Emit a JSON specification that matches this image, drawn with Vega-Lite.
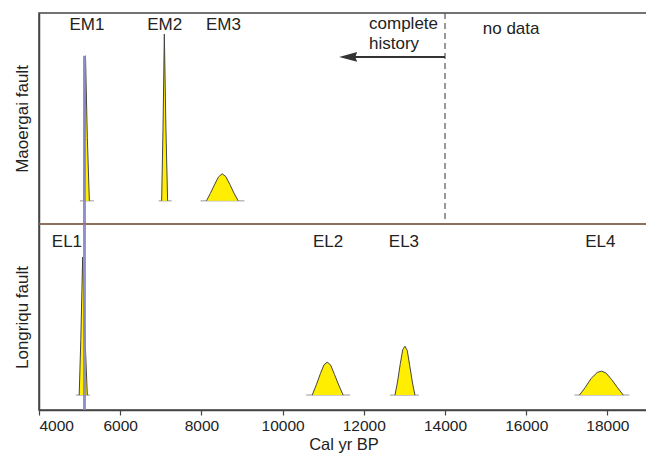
{
  "$schema": "https://vega.github.io/schema/vega-lite/v6.json",
  "padding": {"left": 12, "top": 11, "right": 0, "bottom": 0},
  "background": "white",
  "spacing": 0,
  "bounds": "flush",
  "config": {
    "font": "Liberation Sans",
    "concat": {"spacing": 0},
    "view": {"stroke": "#444", "strokeWidth": 1.5},
    "axis": {"domainColor": "#444", "domainWidth": 1.5, "grid": false, "titleFontWeight": "normal", "titleColor": "#222", "labelColor": "#222", "titleFont": "Liberation Sans", "labelFont": "Liberation Sans"}
  },
  "datasets": {
    "one": [{}],
    "curves": [
      {"panel": "M", "event": "EM1", "yr": 5105, "d": 0},
      {"panel": "M", "event": "EM1", "yr": 5125, "d": 0.3},
      {"panel": "M", "event": "EM1", "yr": 5145, "d": 0.687},
      {"panel": "M", "event": "EM1", "yr": 5190, "d": 0.3},
      {"panel": "M", "event": "EM1", "yr": 5240, "d": 0},
      {"panel": "M", "event": "EM2", "yr": 7021, "d": 0},
      {"panel": "M", "event": "EM2", "yr": 7055, "d": 0.35},
      {"panel": "M", "event": "EM2", "yr": 7087, "d": 0.79},
      {"panel": "M", "event": "EM2", "yr": 7125, "d": 0.35},
      {"panel": "M", "event": "EM2", "yr": 7168, "d": 0},
      {"panel": "M", "event": "EM3", "yr": 8126, "d": 0},
      {"panel": "M", "event": "EM3", "yr": 8220, "d": 0.035},
      {"panel": "M", "event": "EM3", "yr": 8320, "d": 0.075},
      {"panel": "M", "event": "EM3", "yr": 8420, "d": 0.113},
      {"panel": "M", "event": "EM3", "yr": 8511, "d": 0.128},
      {"panel": "M", "event": "EM3", "yr": 8600, "d": 0.115},
      {"panel": "M", "event": "EM3", "yr": 8700, "d": 0.078},
      {"panel": "M", "event": "EM3", "yr": 8800, "d": 0.037},
      {"panel": "M", "event": "EM3", "yr": 8905, "d": 0},
      {"panel": "L", "event": "EL1", "yr": 4990, "d": 0},
      {"panel": "L", "event": "EL1", "yr": 5030, "d": 0.3},
      {"panel": "L", "event": "EL1", "yr": 5075, "d": 0.742},
      {"panel": "L", "event": "EL1", "yr": 5135, "d": 0.3},
      {"panel": "L", "event": "EL1", "yr": 5190, "d": 0},
      {"panel": "L", "event": "EL2", "yr": 10729, "d": 0},
      {"panel": "L", "event": "EL2", "yr": 10830, "d": 0.055},
      {"panel": "L", "event": "EL2", "yr": 10930, "d": 0.115},
      {"panel": "L", "event": "EL2", "yr": 11020, "d": 0.163},
      {"panel": "L", "event": "EL2", "yr": 11098, "d": 0.177},
      {"panel": "L", "event": "EL2", "yr": 11180, "d": 0.163},
      {"panel": "L", "event": "EL2", "yr": 11280, "d": 0.11},
      {"panel": "L", "event": "EL2", "yr": 11390, "d": 0.05},
      {"panel": "L", "event": "EL2", "yr": 11491, "d": 0},
      {"panel": "L", "event": "EL3", "yr": 12768, "d": 0},
      {"panel": "L", "event": "EL3", "yr": 12830, "d": 0.07},
      {"panel": "L", "event": "EL3", "yr": 12900, "d": 0.17},
      {"panel": "L", "event": "EL3", "yr": 12960, "d": 0.245},
      {"panel": "L", "event": "EL3", "yr": 13014, "d": 0.263},
      {"panel": "L", "event": "EL3", "yr": 13070, "d": 0.24},
      {"panel": "L", "event": "EL3", "yr": 13130, "d": 0.16},
      {"panel": "L", "event": "EL3", "yr": 13200, "d": 0.065},
      {"panel": "L", "event": "EL3", "yr": 13259, "d": 0},
      {"panel": "L", "event": "EL4", "yr": 17311, "d": 0},
      {"panel": "L", "event": "EL4", "yr": 17450, "d": 0.04},
      {"panel": "L", "event": "EL4", "yr": 17600, "d": 0.09},
      {"panel": "L", "event": "EL4", "yr": 17750, "d": 0.122},
      {"panel": "L", "event": "EL4", "yr": 17852, "d": 0.129},
      {"panel": "L", "event": "EL4", "yr": 17960, "d": 0.12},
      {"panel": "L", "event": "EL4", "yr": 18100, "d": 0.085},
      {"panel": "L", "event": "EL4", "yr": 18250, "d": 0.04},
      {"panel": "L", "event": "EL4", "yr": 18392, "d": 0}
    ],
    "events": [
      {"panel": "M", "event": "EM1", "labelYr": 5179, "lo": 5007, "hi": 5351},
      {"panel": "M", "event": "EM2", "labelYr": 7094, "lo": 6947, "hi": 7267},
      {"panel": "M", "event": "EM3", "labelYr": 8544, "lo": 7979, "hi": 9059},
      {"panel": "L", "event": "EL1", "labelYr": 4688, "lo": 4909, "hi": 5253},
      {"panel": "L", "event": "EL2", "labelYr": 11122, "lo": 10582, "hi": 11663},
      {"panel": "L", "event": "EL3", "labelYr": 12989, "lo": 12645, "hi": 13357},
      {"panel": "L", "event": "EL4", "labelYr": 17827, "lo": 17189, "hi": 18540}
    ]
  },
  "vconcat": [
    {
      "width": 609,
      "height": 211,
      "encoding": {
        "x": {"type": "quantitative", "scale": {"domain": [4000, 19000], "nice": false, "zero": false}, "axis": null}
      },
      "layer": [
        {
          "data": {"name": "events"},
          "transform": [{"filter": "datum.panel === 'M'"}],
          "mark": {"type": "rule", "color": "#bbbbbb", "strokeWidth": 1.5},
          "encoding": {
            "x": {"field": "lo", "type": "quantitative"},
            "x2": {"field": "hi"},
            "y": {"datum": 0, "type": "quantitative", "scale": {"domain": [-0.11, 0.89], "nice": false, "zero": false},
                  "axis": {"title": "Maoergai fault", "labels": false, "ticks": false, "titleFontSize": 17, "titlePadding": 8}}
          }
        },
        {
          "data": {"name": "curves"},
          "transform": [{"filter": "datum.panel === 'M'"}],
          "mark": {"type": "area", "color": "#ffee00"},
          "encoding": {
            "x": {"field": "yr", "type": "quantitative"},
            "y": {"field": "d", "type": "quantitative", "stack": null},
            "detail": {"field": "event", "type": "nominal"}
          }
        },
        {
          "data": {"name": "curves"},
          "transform": [{"filter": "datum.panel === 'M'"}],
          "mark": {"type": "line", "color": "#444", "strokeWidth": 1},
          "encoding": {
            "x": {"field": "yr", "type": "quantitative"},
            "y": {"field": "d", "type": "quantitative"},
            "detail": {"field": "event", "type": "nominal"}
          }
        },
        {
          "data": {"name": "one"},
          "mark": {"type": "rule", "color": "#8585c8", "strokeWidth": 3, "opacity": 0.9},
          "encoding": {
            "x": {"datum": 5120, "type": "quantitative"},
            "y": {"datum": 0.687, "type": "quantitative"},
            "y2": {"datum": -0.11}
          }
        },
        {
          "data": {"name": "one"},
          "mark": {"type": "rule", "color": "#555", "strokeWidth": 1.2, "strokeDash": [6, 4]},
          "encoding": {
            "x": {"datum": 14000, "type": "quantitative"},
            "y": {"datum": 0.89, "type": "quantitative"},
            "y2": {"datum": -0.11}
          }
        },
        {
          "data": {"name": "one"},
          "mark": {"type": "rule", "color": "#333", "strokeWidth": 2},
          "encoding": {
            "x": {"datum": 11750, "type": "quantitative"},
            "x2": {"datum": 14000},
            "y": {"datum": 0.682, "type": "quantitative"}
          }
        },
        {
          "data": {"name": "one"},
          "mark": {"type": "point", "shape": "M-1,0L1,-0.55L0.8,0L1,0.55Z", "filled": true, "color": "#333", "size": 324, "opacity": 1},
          "encoding": {
            "x": {"datum": 11614, "type": "quantitative"},
            "y": {"datum": 0.682, "type": "quantitative"}
          }
        },
        {
          "data": {"name": "one"},
          "mark": {"type": "text", "text": ["complete", "history"], "align": "left", "baseline": "middle", "fontSize": 17, "lineHeight": 20, "color": "#222"},
          "encoding": {
            "x": {"datum": 12129, "type": "quantitative"},
            "y": {"datum": 0.838, "type": "quantitative"}
          }
        },
        {
          "data": {"name": "one"},
          "mark": {"type": "text", "text": "no data", "align": "left", "baseline": "middle", "fontSize": 17, "color": "#222"},
          "encoding": {
            "x": {"datum": 14930, "type": "quantitative"},
            "y": {"datum": 0.815, "type": "quantitative"}
          }
        },
        {
          "data": {"name": "events"},
          "transform": [{"filter": "datum.panel === 'M'"}],
          "mark": {"type": "text", "align": "center", "baseline": "middle", "fontSize": 17, "color": "#222"},
          "encoding": {
            "x": {"field": "labelYr", "type": "quantitative"},
            "y": {"datum": 0.834, "type": "quantitative"},
            "text": {"field": "event"}
          }
        },
        {
          "data": {"name": "one"},
          "mark": {"type": "rule", "color": "#a07868", "strokeWidth": 1.5},
          "encoding": {
            "x": {"datum": 4000, "type": "quantitative"},
            "x2": {"datum": 19000},
            "y": {"datum": -0.11, "type": "quantitative"}
          }
        }
      ]
    },
    {
      "width": 609,
      "height": 186,
      "encoding": {
        "x": {"type": "quantitative", "scale": {"domain": [4000, 19000], "nice": false, "zero": false},
              "axis": {"title": "Cal yr BP", "values": [4000, 6000, 8000, 10000, 12000, 14000, 16000, 18000], "format": "d",
                       "tickColor": "#444", "tickSize": 5, "tickWidth": 1.2, "labelFontSize": 15.5, "labelPadding": 3, "titleFontSize": 16.5, "titlePadding": 3}}
      },
      "layer": [
        {
          "data": {"name": "events"},
          "transform": [{"filter": "datum.panel === 'L'"}],
          "mark": {"type": "rule", "color": "#bbbbbb", "strokeWidth": 1.5},
          "encoding": {
            "x": {"field": "lo", "type": "quantitative"},
            "x2": {"field": "hi"},
            "y": {"datum": 0, "type": "quantitative", "scale": {"domain": [-0.08, 0.92], "nice": false, "zero": false},
                  "axis": {"title": "Longriqu fault", "labels": false, "ticks": false, "titleFontSize": 17, "titlePadding": 8}}
          }
        },
        {
          "data": {"name": "curves"},
          "transform": [{"filter": "datum.panel === 'L'"}],
          "mark": {"type": "area", "color": "#ffee00"},
          "encoding": {
            "x": {"field": "yr", "type": "quantitative"},
            "y": {"field": "d", "type": "quantitative", "stack": null},
            "detail": {"field": "event", "type": "nominal"}
          }
        },
        {
          "data": {"name": "curves"},
          "transform": [{"filter": "datum.panel === 'L'"}],
          "mark": {"type": "line", "color": "#444", "strokeWidth": 1},
          "encoding": {
            "x": {"field": "yr", "type": "quantitative"},
            "y": {"field": "d", "type": "quantitative"},
            "detail": {"field": "event", "type": "nominal"}
          }
        },
        {
          "data": {"name": "one"},
          "mark": {"type": "rule", "color": "#8585c8", "strokeWidth": 3, "opacity": 0.9},
          "encoding": {
            "x": {"datum": 5120, "type": "quantitative"},
            "y": {"datum": 0.92, "type": "quantitative"},
            "y2": {"datum": -0.08}
          }
        },
        {
          "data": {"name": "events"},
          "transform": [{"filter": "datum.panel === 'L'"}],
          "mark": {"type": "text", "align": "center", "baseline": "middle", "fontSize": 17, "color": "#222"},
          "encoding": {
            "x": {"field": "labelYr", "type": "quantitative"},
            "y": {"datum": 0.823, "type": "quantitative"},
            "text": {"field": "event"}
          }
        },
        {
          "data": {"name": "one"},
          "mark": {"type": "rule", "color": "#a07868", "strokeWidth": 1.5},
          "encoding": {
            "x": {"datum": 4000, "type": "quantitative"},
            "x2": {"datum": 19000},
            "y": {"datum": 0.92, "type": "quantitative"}
          }
        }
      ]
    }
  ]
}
